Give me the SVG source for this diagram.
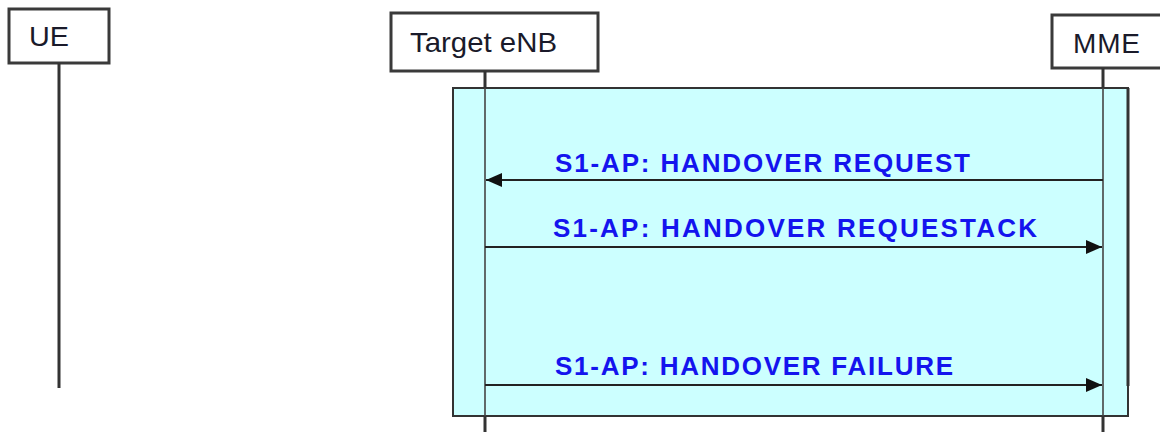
<svg xmlns="http://www.w3.org/2000/svg" width="1160" height="432" viewBox="0 0 1160 432">
<style>
.box{fill:#fff;stroke:#3a3a3a;stroke-width:3}
.name{font-family:"Liberation Sans",Arial,sans-serif;font-size:28px;fill:#1a1a2a}
.life{stroke:#333;stroke-width:3;fill:none}
.lifein{stroke:#444;stroke-width:1.6;fill:none}
.msg{stroke:#222;stroke-width:2;fill:none}
.lbl{font-family:"Liberation Sans",Arial,sans-serif;font-size:26px;font-weight:bold;fill:#1414ee}
</style>
<defs>
<marker id="ah" markerWidth="16" markerHeight="14" refX="16" refY="7" orient="auto" markerUnits="userSpaceOnUse">
<path d="M0,0 L16,7 L0,14 Z" fill="#111"/>
</marker>
</defs>
<g id="ue">
<rect class="box" x="9" y="9" width="100" height="54"/>
<text class="name" x="29" y="46" textLength="40" lengthAdjust="spacingAndGlyphs">UE</text>
<line class="life" x1="59" y1="63" x2="59" y2="388"/>
</g>
<g id="frame">
<rect x="453" y="88" width="675" height="328" fill="#ccffff" stroke="#333" stroke-width="2"/>
<line x1="1128" y1="88" x2="1128" y2="386" stroke="#333" stroke-width="3"/>
</g>
<g id="target-enb">
<rect class="box" x="391" y="13" width="207" height="58"/>
<text class="name" x="410" y="52" textLength="147" lengthAdjust="spacingAndGlyphs">Target eNB</text>
<line class="life" x1="485" y1="71" x2="485" y2="88"/>
<line class="lifein" x1="485" y1="88" x2="485" y2="416"/>
<line class="life" x1="485" y1="416" x2="485" y2="432"/>
</g>
<g id="mme">
<rect class="box" x="1052" y="15" width="120" height="53"/>
<text class="name" x="1073" y="53" textLength="67" lengthAdjust="spacing">MME</text>
<line class="life" x1="1103" y1="68" x2="1103" y2="88"/>
<line class="lifein" x1="1103" y1="88" x2="1103" y2="416"/>
<line class="life" x1="1103" y1="416" x2="1103" y2="432"/>
</g>
<g id="connectors">
<line class="msg" x1="1103" y1="180" x2="486" y2="180" marker-end="url(#ah)"/>
<text class="lbl" x="555" y="172" textLength="415" lengthAdjust="spacing">S1-AP: HANDOVER REQUEST</text>
<line class="msg" x1="485" y1="247" x2="1102" y2="247" marker-end="url(#ah)"/>
<text class="lbl" x="553" y="237" textLength="484" lengthAdjust="spacing">S1-AP: HANDOVER REQUESTACK</text>
<line class="msg" x1="485" y1="385" x2="1102" y2="385" stroke-width="3" marker-end="url(#ah)"/>
<text class="lbl" x="555" y="375" textLength="398" lengthAdjust="spacing">S1-AP: HANDOVER FAILURE</text>
</g>
</svg>
